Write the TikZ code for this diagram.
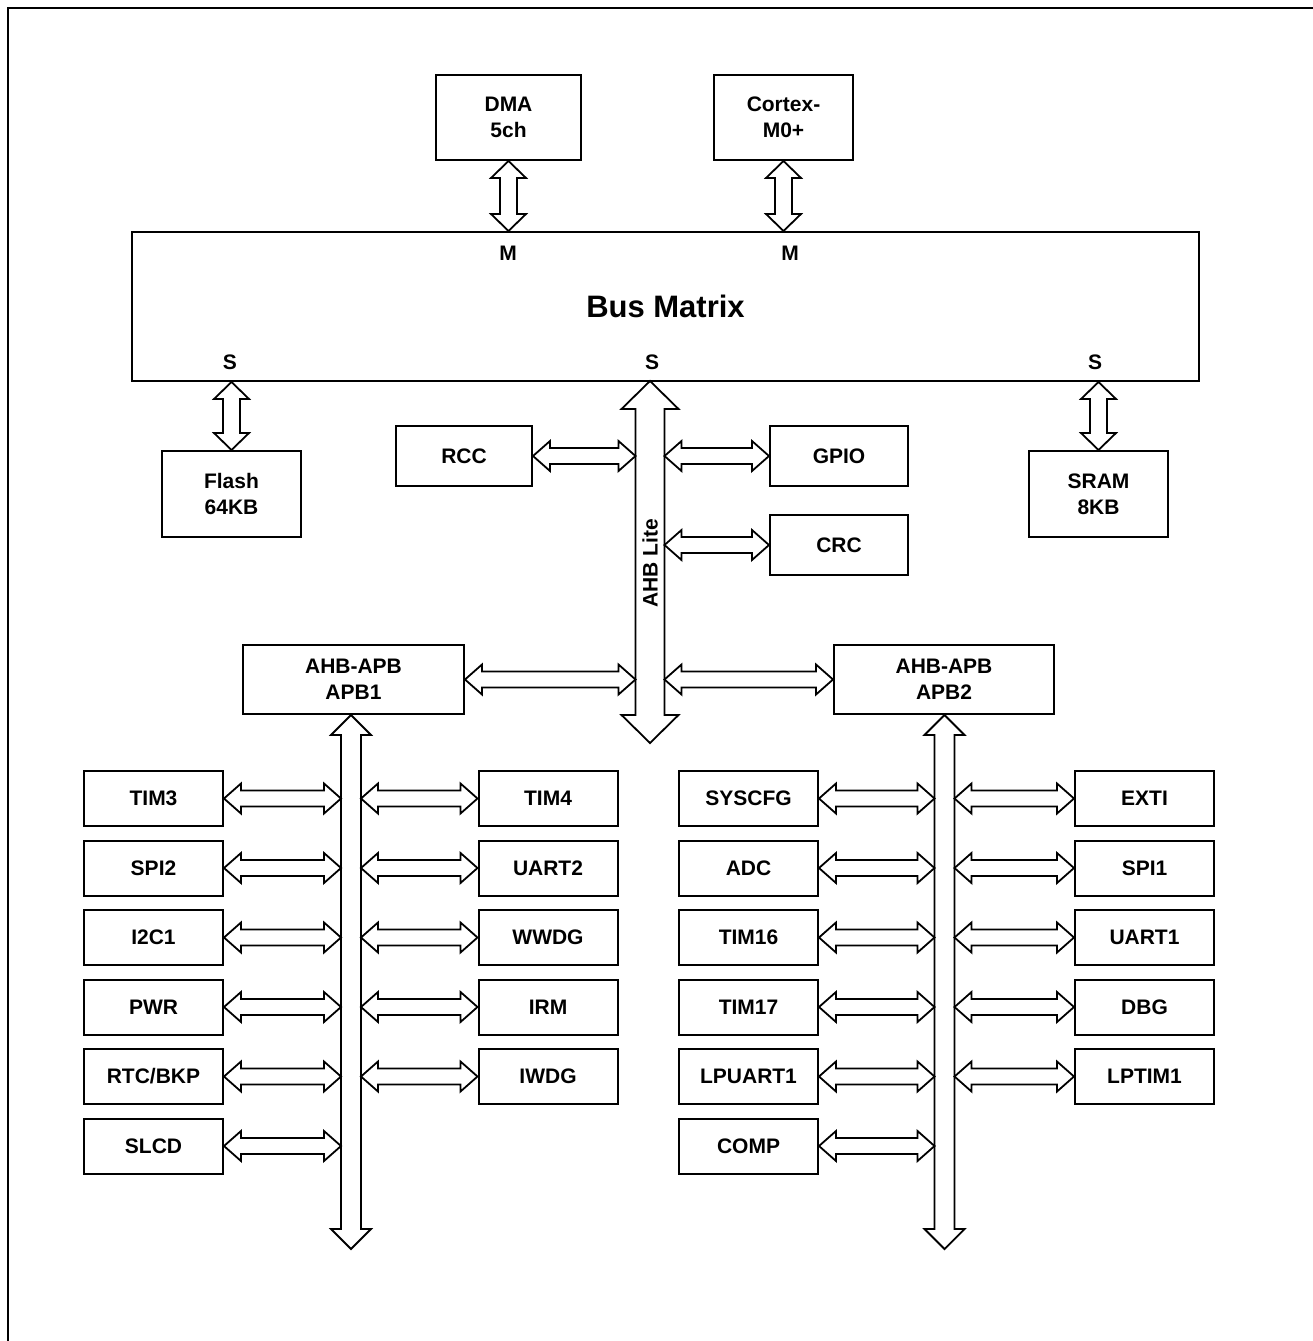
\documentclass[tikz,border=0pt]{standalone}
\usepackage{fontspec}
\setmainfont{Liberation Sans}
\usetikzlibrary{calc, positioning}

\tikzset{
  block/.style={draw, line width=2pt, fill=white, minimum width=139pt, minimum height=55pt,
    font=\bfseries\fontsize{21}{26}\selectfont, align=center, inner sep=2pt},
  lbl/.style={font=\bfseries\fontsize{21}{26}\selectfont, inner sep=0pt},
  hollow/.style={draw, line width=1.8pt, fill=white, line join=miter},
  link dims/.code={\def\shafthalf{8pt}\def\headhalf{15pt}\def\headlen{17pt}},
  drop dims/.code={\def\shafthalf{8.5pt}\def\headhalf{17.5pt}\def\headlen{17pt}},
  ahb dims/.code={\def\shafthalf{14.5pt}\def\headhalf{28.5pt}\def\headlen{28pt}},
  apb dims/.code={\def\shafthalf{10pt}\def\headhalf{20pt}\def\headlen{20pt}},
}

% hollow double arrow between two points
\newcommand{\hollowarrow}[3][link dims]{%
  \tikzset{#1}%
  \coordinate (ha) at #2;
  \coordinate (hb) at #3;
  \draw[hollow] (ha)
    -- ($(ha)!\headlen!(hb)!\headhalf!90:(hb)$)
    -- ($(ha)!\headlen!(hb)!\shafthalf!90:(hb)$)
    -- ($(hb)!\headlen!(ha)!\shafthalf!-90:(ha)$)
    -- ($(hb)!\headlen!(ha)!\headhalf!-90:(ha)$)
    -- (hb)
    -- ($(hb)!\headlen!(ha)!\headhalf!90:(ha)$)
    -- ($(hb)!\headlen!(ha)!\shafthalf!90:(ha)$)
    -- ($(ha)!\headlen!(hb)!\shafthalf!-90:(hb)$)
    -- ($(ha)!\headlen!(hb)!\headhalf!-90:(hb)$)
    -- cycle;
}

\begin{document}
\begin{tikzpicture}[x=1pt, y=-1pt]
  \useasboundingbox (0,0) rectangle (1313,1341);
  \draw[line width=2.5pt] (8,1341) -- (8,8) -- (1313,8);

  % masters and bus matrix
  \node[block, minimum width=145pt, minimum height=85pt] (dma) at (508.5,117.5) {DMA\\5ch};
  \node[block, minimum width=139pt, minimum height=85pt] (cortex) at (783.5,117.5) {Cortex-\\M0+};
  \node[block, minimum width=1067pt, minimum height=149pt,
    font=\bfseries\fontsize{31}{37}\selectfont] (mtx) at (665.5,306.5) {Bus Matrix};
  \node[lbl] (mdma) at (508,253) {M};
  \node[lbl] (mcpu) at (790,253) {M};
  \node[lbl] (sflash) at (230,362) {S};
  \node[lbl] (sahb) at (652,362) {S};
  \node[lbl] (ssram) at (1095,362) {S};
  \hollowarrow[drop dims]{(dma.south)}{(dma.south |- mtx.north)}
  \hollowarrow[drop dims]{(cortex.south)}{(cortex.south |- mtx.north)}

  % memories
  \node[block, minimum height=86pt] (flash) at (231.5,494) {Flash\\64KB};
  \node[block, minimum height=86pt] (sram) at (1098.5,494) {SRAM\\8KB};
  \hollowarrow[drop dims]{(flash.north |- mtx.south)}{(flash.north)}
  \hollowarrow[drop dims]{(sram.north |- mtx.south)}{(sram.north)}

  % AHB lite bus
  \coordinate (ahbtop) at (650,381);
  \coordinate (ahbbot) at (650,743);
  \coordinate (ahbL) at (635.5,0);
  \coordinate (ahbR) at (664.5,0);
  \hollowarrow[ahb dims]{(ahbtop)}{(ahbbot)}
  \node[lbl, rotate=90] (ahblbl) at (650,563) {AHB Lite};

  \node[block, minimum width=136pt, minimum height=60pt] (rcc) at (464,456) {RCC};
  \node[block, minimum width=138pt, minimum height=60pt] (gpio) at (839,456) {GPIO};
  \node[block, minimum width=138pt, minimum height=60pt] (crc) at (839,545) {CRC};
  \hollowarrow{(rcc.east)}{(rcc.east -| ahbL)}
  \hollowarrow{(gpio.west -| ahbR)}{(gpio.west)}
  \hollowarrow{(crc.west -| ahbR)}{(crc.west)}

  % bridges
  \node[block, minimum width=221pt, minimum height=69pt] (apbone) at (353.5,679.5) {AHB-APB\\APB1};
  \node[block, minimum width=220pt, minimum height=69pt] (apbtwo) at (944,679.5) {AHB-APB\\APB2};
  \hollowarrow{(apbone.east)}{(apbone.east -| ahbL)}
  \hollowarrow{(apbtwo.west -| ahbR)}{(apbtwo.west)}

  % APB buses
  \coordinate (busone) at (351,1249);
  \coordinate (bustwo) at (944.5,1249);
  \coordinate (onel) at (341,0);
  \coordinate (oner) at (361,0);
  \coordinate (twol) at (934.5,0);
  \coordinate (twor) at (954.5,0);
  \hollowarrow[apb dims]{(apbone.south -| busone)}{(busone)}
  \hollowarrow[apb dims]{(apbtwo.south -| bustwo)}{(bustwo)}

  % peripherals
  \foreach \name [count=\i from 0] in {TIM3,SPI2,I2C1,PWR,RTC/BKP,SLCD} {
    \node[block] (pa\i) at (153.5,{798.5+69.5*\i}) {\name};
    \hollowarrow{(pa\i.east)}{(pa\i.east -| onel)}
  }
  \foreach \name [count=\i from 0] in {TIM4,UART2,WWDG,IRM,IWDG} {
    \node[block] (pb\i) at (548,{798.5+69.5*\i}) {\name};
    \hollowarrow{(pb\i.west -| oner)}{(pb\i.west)}
  }
  \foreach \name [count=\i from 0] in {SYSCFG,ADC,TIM16,TIM17,LPUART1,COMP} {
    \node[block] (pc\i) at (748.5,{798.5+69.5*\i}) {\name};
    \hollowarrow{(pc\i.east)}{(pc\i.east -| twol)}
  }
  \foreach \name [count=\i from 0] in {EXTI,SPI1,UART1,DBG,LPTIM1} {
    \node[block] (pd\i) at (1144.5,{798.5+69.5*\i}) {\name};
    \hollowarrow{(pd\i.west -| twor)}{(pd\i.west)}
  }
\end{tikzpicture}
\end{document}
